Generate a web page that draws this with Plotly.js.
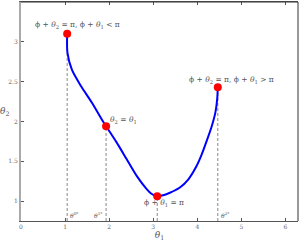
<!DOCTYPE html>
<html><head><meta charset="utf-8">
<script src="https://cdn.plot.ly/plotly-3.0.1.min.js"></script>
<style>html,body{margin:0;padding:0;background:#fff}#plot{width:299px;height:242px}</style>
</head><body><div id="plot"></div>
<script>
// curve theta2 vs theta1
const theta1 = [1.047, 1.054, 1.154, 1.364, 1.606, 1.833, 1.93, 2.172, 2.398, 2.624, 2.851, 2.95, 3.077, 3.2, 3.378, 3.604, 3.792, 3.982, 4.095, 4.208, 4.321, 4.412, 4.45, 4.464];
const theta2 = [3.10, 2.86, 2.65, 2.441, 2.237, 2.025, 1.94, 1.734, 1.525, 1.316, 1.15, 1.095, 1.06, 1.07, 1.105, 1.17, 1.27, 1.44, 1.58, 1.75, 1.93, 2.12, 2.28, 2.43];
// special points
const keyX = [1.047, 1.93, 3.09, 4.464];
const keyY = [3.10, 1.94, 1.06, 2.43];
const keyLabels = ["ϕ + <i>θ</i><sub>2</sub> = π, ϕ + <i>θ</i><sub>1</sub> < π", "<i>θ</i><sub>2</sub> = <i>θ</i><sub>1</sub>", "ϕ + <i>θ</i><sub>1</sub> = π", "ϕ + <i>θ</i><sub>2</sub> = π, ϕ + <i>θ</i><sub>1</sub> > π"];
const footLabels = ["<i>θ</i><sup>0*</sup>", "<i>θ</i><sup>1*</sup>", "", "<i>θ</i><sup>2*</sup>"];
const xTicks = [0, 1, 2, 3, 4, 5, 6];
const yTicks = [1, 1.5, 2, 2.5, 3, 3.5];
const yMin = 0.75;

const font = {family: "DejaVu Serif, serif", color: "#555"};
const traces = [];
keyX.forEach((x, i) => {
  traces.push({x: [x, x], y: [yMin, keyY[i]], mode: "lines", line: {color: "#888", width: 1, dash: "3px,2px"}, hoverinfo: "skip", showlegend: false});
});
traces.push({x: theta1, y: theta2, mode: "lines", line: {color: "#0000ff", width: 2, shape: "spline", smoothing: 0.8}, showlegend: false});
traces.push({x: keyX, y: keyY, mode: "markers", marker: {color: "#ff0000", size: 8}, showlegend: false});

const labelPos = [
  {xanchor: "center", yanchor: "middle", ax: 10, ay: 9},
  {xanchor: "left", yanchor: "middle", ax: 2, ay: 6},
  {xanchor: "center", yanchor: "middle", ax: 7, ay: -7},
  {xanchor: "center", yanchor: "middle", ax: 14, ay: 7}
];
const annotations = keyX.map((x, i) => ({
  x: x, y: keyY[i], xref: "x", yref: "y", text: keyLabels[i], showarrow: false,
  xanchor: labelPos[i].xanchor, yanchor: labelPos[i].yanchor,
  xshift: labelPos[i].ax, yshift: labelPos[i].ay,
  font: Object.assign({size: 7.5}, font)
}));
const footAnchor = ["left", "right", "left", "left"];
keyX.forEach((x, i) => {
  if (!footLabels[i]) return;
  annotations.push({x: x, y: yMin, xref: "x", yref: "y", text: footLabels[i], showarrow: false,
    xanchor: footAnchor[i], yanchor: "bottom", xshift: footAnchor[i] === "left" ? 1 : -1, yshift: 0,
    font: Object.assign({size: 6}, font)});
});
annotations.push({x: -0.06, y: 0.5, xref: "paper", yref: "paper", text: "<i>θ</i><sub>2</sub>", showarrow: false,
  xanchor: "center", yanchor: "middle", font: Object.assign({size: 9}, font)});

const layout = {
  width: 299, height: 242,
  margin: {l: 21, r: 1, t: 2, b: 21},
  paper_bgcolor: "#fff", plot_bgcolor: "#fff",
  xaxis: {range: [0, 2 * Math.PI], tickvals: xTicks, ticktext: xTicks.map(String), ticks: "inside", ticklen: 3, tickcolor: "#555",
    showline: true, linecolor: "#555", linewidth: 1, mirror: "ticks", showgrid: false, zeroline: false,
    tickfont: {family: font.family, size: 6, color: "#666"},
    title: {text: "<i>θ</i><sub>1</sub>", font: {family: font.family, size: 9, color: "#555"}, standoff: 2}},
  yaxis: {range: [yMin, 3.5], tickvals: yTicks, ticktext: yTicks.map(String), ticks: "inside", ticklen: 3, tickcolor: "#555",
    showline: true, linecolor: "#aaa", linewidth: 2, mirror: false, showgrid: false, zeroline: false,
    tickfont: {family: font.family, size: 6, color: "#666"}},
  shapes: [
    {type: "line", xref: "paper", yref: "paper", x0: 1, x1: 1, y0: 0, y1: 1, line: {color: "#333", width: 1}},
    {type: "line", xref: "paper", yref: "paper", x0: 0, x1: 1, y0: 1, y1: 1, line: {color: "#333", width: 1}}
  ],
  annotations: annotations
};
Plotly.newPlot("plot", traces, layout, {staticPlot: true, displayModeBar: false});
</script></body></html>
